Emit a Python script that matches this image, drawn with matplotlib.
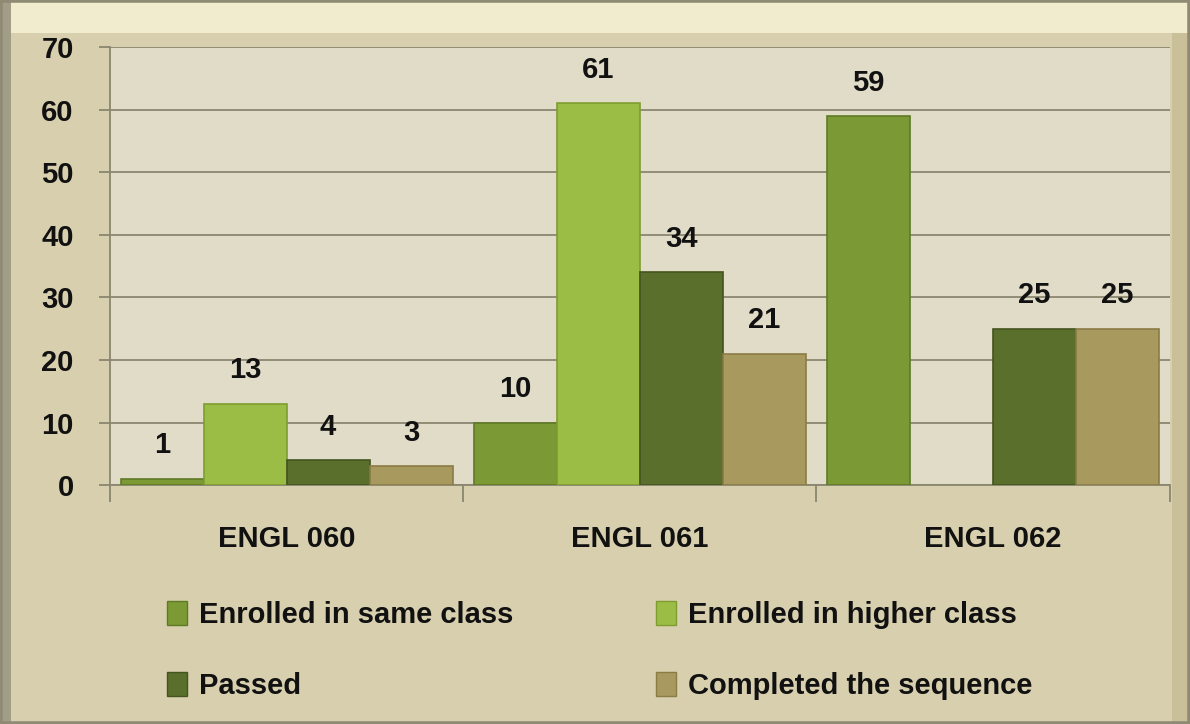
import matplotlib
matplotlib.use('Agg')
import matplotlib.pyplot as plt
import numpy as np
from matplotlib.patches import Rectangle

categories = ['ENGL 060', 'ENGL 061', 'ENGL 062']
series_names = ['Enrolled in same class', 'Enrolled in higher class', 'Passed', 'Completed the sequence']
same_class = [1, 10, 59]
higher_class = [13, 61, None]
passed = [4, 34, 25]
completed = [3, 21, 25]
y_ticks = [0, 10, 20, 30, 40, 50, 60, 70]

colors = ['#7b9a35', '#9bbd45', '#5b6f2c', '#a8995e']
edges = ['#5f7a25', '#7e9d30', '#45541f', '#8a7c45']

plt.rcParams['font.family'] = ['Liberation Sans', 'DejaVu Sans']

fig = plt.figure(figsize=(11.9, 7.24), dpi=100)
fig.patch.set_facecolor('#d7cfad')

# bevelled frame
fig.patches.append(Rectangle((0.0, 0.955), 1.0, 0.045, transform=fig.transFigure,
                             facecolor='#f2ecce', edgecolor='none', zorder=0))
fig.patches.append(Rectangle((0.0, 0.0), 0.009, 1.0, transform=fig.transFigure,
                             facecolor='#a29d86', edgecolor='none', zorder=0))
fig.patches.append(Rectangle((0.985, 0.0), 0.015, 0.955, transform=fig.transFigure,
                             facecolor='#c9c09a', edgecolor='none', zorder=0))
fig.patches.append(Rectangle((0, 0), 1, 1, transform=fig.transFigure, fill=False,
                             edgecolor='#8f8a74', linewidth=4, zorder=0))

ax = fig.add_axes([0.0924, 0.330, 0.8906, 0.605])
ax.set_facecolor('#e1dcc7')

x = np.arange(len(categories))
width = 0.235
all_series = [same_class, higher_class, passed, completed]
for i, vals in enumerate(all_series):
    offs = (i - 1.5) * width
    for j, v in enumerate(vals):
        if v is None:
            continue
        ax.bar(x[j] + offs, v, width, color=colors[i], edgecolor=edges[i],
               linewidth=1.2, zorder=3)
        ax.annotate(str(v), (x[j] + offs, v), xytext=(0, 24), textcoords='offset points',
                    ha='center', va='center', fontsize=21, fontweight='bold', color='#111111')

ax.set_xlim(-0.5, 2.5)
ax.set_ylim(0, 70)
ax.set_yticks(y_ticks)
ax.set_yticklabels([str(t) for t in y_ticks], fontsize=21, fontweight='bold', color='#111111')
ax.yaxis.grid(True, color='#8a8670', linewidth=1.3, zorder=1)
ax.set_xticks(x)
ax.set_xticklabels(categories, fontsize=21, fontweight='bold', color='#111111')
ax.tick_params(axis='x', length=0, pad=29)
ax.tick_params(axis='y', length=8, color='#8a8670', width=1.3, pad=18)
# category separators below the axis
ax.set_xticks([-0.5, 0.5, 1.5, 2.5], minor=True)
ax.tick_params(axis='x', which='minor', length=12, color='#8a8670', width=1.3)
for s in ['top', 'right']:
    ax.spines[s].set_visible(False)
ax.spines['left'].set_color('#8a8670')
ax.spines['left'].set_linewidth(1.3)
ax.spines['bottom'].set_color('#8a8670')
ax.spines['bottom'].set_linewidth(1.3)

# legend fills column by column, so order gives rows: same/higher, passed/completed
order = [0, 2, 1, 3]
handles = [Rectangle((0, 0), 1, 1, facecolor=colors[k], edgecolor=edges[k]) for k in order]
labels = [series_names[k] for k in order]
leg = fig.legend(handles, labels, loc='upper left', bbox_to_anchor=(0.118, 0.206), ncol=2,
                 frameon=False, prop={'size': 21, 'weight': 'bold'}, handlelength=0.7,
                 handleheight=0.9, handletextpad=0.4, columnspacing=4.9, labelspacing=1.45)
for t in leg.get_texts():
    t.set_color('#111111')

fig.savefig('out.png', dpi=100, facecolor=fig.get_facecolor())
